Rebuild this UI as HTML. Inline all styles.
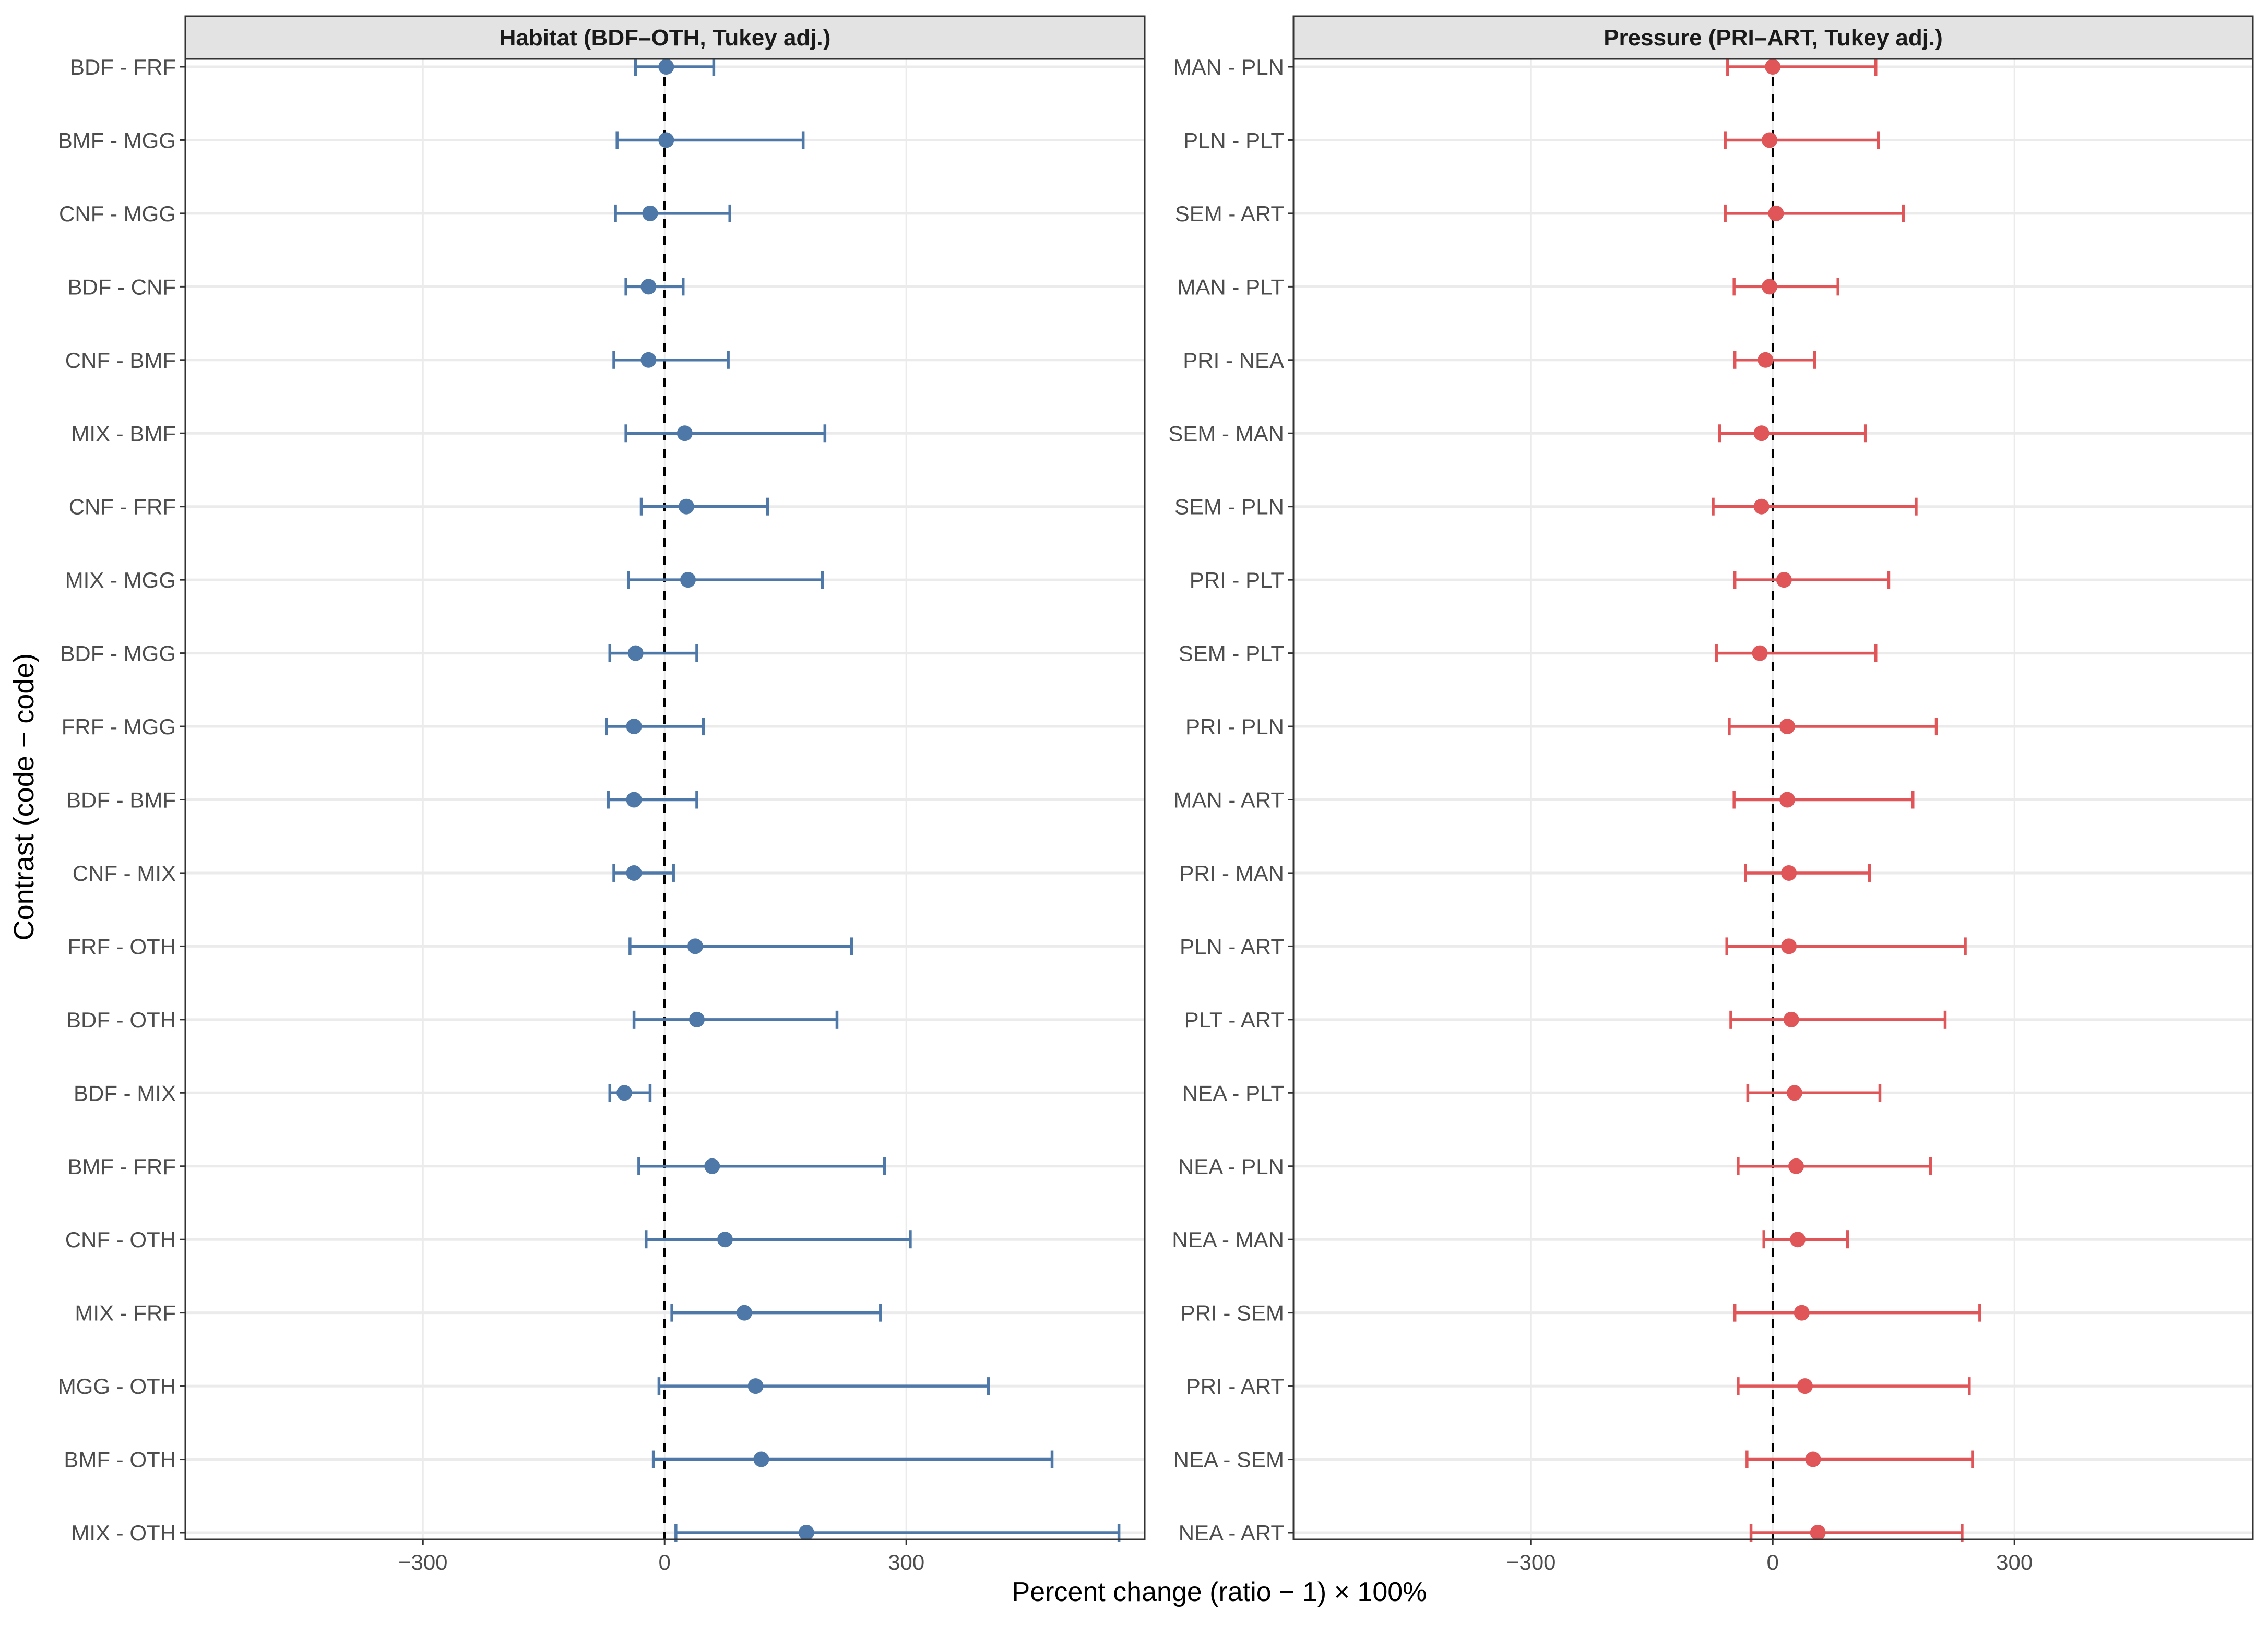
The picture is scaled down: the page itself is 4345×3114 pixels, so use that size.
<!DOCTYPE html>
<html><head><meta charset="utf-8"><style>
html,body{margin:0;padding:0;background:#fff;}
svg{display:block;font-family:"Liberation Sans",Arial,sans-serif;}
</style></head><body>
<svg id="chart" width="4345" height="3114" viewBox="0 0 4345 3114" xmlns="http://www.w3.org/2000/svg">
<text x="2336" y="3068" text-anchor="middle" font-size="52" fill="#000">Percent change (ratio − 1) × 100%</text>
<text transform="translate(64,1527) rotate(-90)" text-anchor="middle" font-size="54" fill="#000">Contrast (code − code)</text>
</svg>
<script>
const habLabels=["BDF - FRF","BMF - MGG","CNF - MGG","BDF - CNF","CNF - BMF","MIX - BMF","CNF - FRF","MIX - MGG","BDF - MGG","FRF - MGG","BDF - BMF","CNF - MIX","FRF - OTH","BDF - OTH","BDF - MIX","BMF - FRF","CNF - OTH","MIX - FRF","MGG - OTH","BMF - OTH","MIX - OTH"];
const habEst=[2,2,-18,-20,-20,25,27,29,-36,-38,-38,-38,38,40,-50,59,75,99,113,120,176];
const habLo=[-36,-59,-61,-48,-63,-48,-29,-45,-68,-72,-70,-63,-43,-38,-68,-32,-23,9,-7,-14,14];
const habHi=[61,172,81,23,79,199,128,196,40,48,40,11,232,214,-18,273,305,268,402,481,564];
const preLabels=["MAN - PLN","PLN - PLT","SEM - ART","MAN - PLT","PRI - NEA","SEM - MAN","SEM - PLN","PRI - PLT","SEM - PLT","PRI - PLN","MAN - ART","PRI - MAN","PLN - ART","PLT - ART","NEA - PLT","NEA - PLN","NEA - MAN","PRI - SEM","PRI - ART","NEA - SEM","NEA - ART"];
const preEst=[0,-4,4,-4,-9,-14,-14,14,-16,18,18,20,20,23,27,29,31,36,40,50,56];
const preLo=[-56,-59,-59,-48,-47,-66,-74,-47,-70,-54,-48,-34,-57,-52,-31,-43,-11,-47,-43,-32,-27];
const preHi=[128,131,162,81,52,115,178,144,128,203,174,120,239,214,133,196,93,257,244,248,235];
const xTicks=[-300,0,300];
const xDomain=[-595,596];
const titles=["Habitat (BDF–OTH, Tukey adj.)","Pressure (PRI–ART, Tukey adj.)"];

const NS="http://www.w3.org/2000/svg";
const svg=document.getElementById("chart");
function mk(tag,attrs,parent){const e=document.createElementNS(NS,tag);for(const k in attrs)e.setAttribute(k,attrs[k]);(parent||svg).appendChild(e);return e;}
const topY=113,botY=2950;
function yPos(i){return 128+i*(2937-128)/20;}

function panel(p,L,R,labels,est,lo,hi,color,name){
  const g=mk("g",{});
  
  
  const xs=v=>L+(v-xDomain[0])/(xDomain[1]-xDomain[0])*(R-L);
  const s=mk("rect",{x:L,y:31,width:R-L,height:topY-31,fill:"#e3e3e3",stroke:"#333","stroke-width":3},g);
  
  
  const st=mk("text",{x:(L+R)/2,y:87,"text-anchor":"middle","font-size":44,"font-weight":"bold",fill:"#1a1a1a"},g);
  st.textContent=titles[p];
  
  
  xTicks.forEach(t=>{const l=mk("line",{x1:xs(t),x2:xs(t),y1:topY,y2:botY,stroke:"#ebebeb","stroke-width":3},g);
    
    });
  labels.forEach((lab,i)=>{const l=mk("line",{x1:L,x2:R,y1:yPos(i),y2:yPos(i),stroke:"#ebebeb","stroke-width":5},g);
    
    });
  const z=mk("line",{x1:xs(0),x2:xs(0),y1:topY,y2:botY,stroke:"#000","stroke-width":4.5,"stroke-dasharray":"17,17"},g);
  
  
  labels.forEach((lab,i)=>{
    const y=yPos(i);
    const eb=mk("g",{stroke:color,"stroke-width":5.5,fill:"none"},g);
    
    
    mk("line",{x1:xs(lo[i]),x2:xs(hi[i]),y1:y,y2:y},eb);
    mk("line",{x1:xs(lo[i]),x2:xs(lo[i]),y1:y-17,y2:y+17},eb);
    mk("line",{x1:xs(hi[i]),x2:xs(hi[i]),y1:y-17,y2:y+17},eb);
    const c=mk("circle",{cx:xs(est[i]),cy:y,r:15,fill:color},g);
    
    
    const tk=mk("line",{x1:L-10,x2:L,y1:y,y2:y,stroke:"#333","stroke-width":3},g);
    
    
    const t=mk("text",{x:L-18,y:y+15,"text-anchor":"end","font-size":42,fill:"#4d4d4d"},g);
    t.textContent=lab;
    
    
  });
  xTicks.forEach(t=>{
    const tk=mk("line",{x1:xs(t),x2:xs(t),y1:botY,y2:botY+10,stroke:"#333","stroke-width":3},g);
    
    
    const tx=mk("text",{x:xs(t),y:3008,"text-anchor":"middle","font-size":42,fill:"#4d4d4d"},g);
    tx.textContent=t<0?"−"+Math.abs(t):String(t);
    
    
  });
  const b=mk("rect",{x:L,y:topY,width:R-L,height:botY-topY,fill:"none",stroke:"#333","stroke-width":3},g);
  
  
}
panel(0,355,2193,habLabels,habEst,habLo,habHi,"#4e78a8","habitat");
panel(1,2478,4316,preLabels,preEst,preLo,preHi,"#e05558","pressure");
</script>
</body></html>
